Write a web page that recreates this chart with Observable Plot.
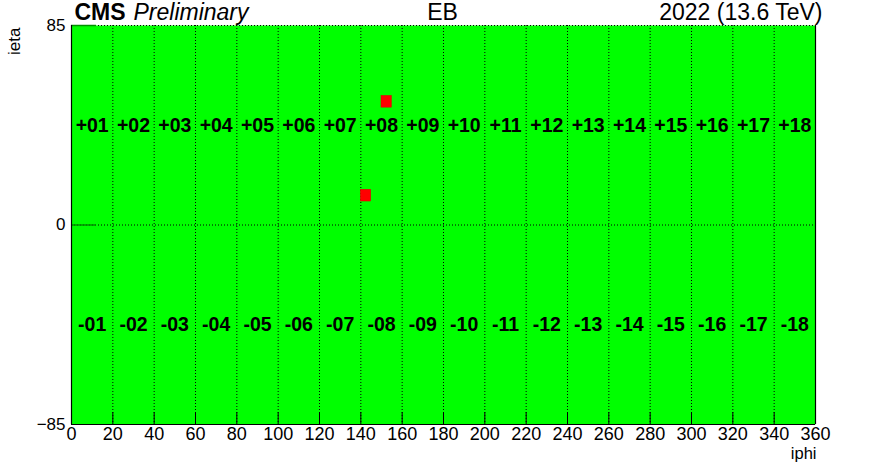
<!DOCTYPE html>
<html>
<head>
<meta charset="utf-8">
<script src="https://cdn.jsdelivr.net/npm/d3@7"></script>
<script src="https://cdn.jsdelivr.net/npm/@observablehq/plot@0.6"></script>
<style>
  html, body { margin: 0; padding: 0; background: white; }
</style>
</head>
<body>
<div id="chart"></div>
<script>
// ---- data ----
const xTicks = [0, 20, 40, 60, 80, 100, 120, 140, 160, 180, 200, 220, 240, 260, 280, 300, 320, 340, 360];
const xGrid = [20, 40, 60, 80, 100, 120, 140, 160, 180, 200, 220, 240, 260, 280, 300, 320, 340];
const yTicks = [-85, 0, 85];
const yTickLabels = ["\u221285", "0", "85"];
const smCenters = [10, 30, 50, 70, 90, 110, 130, 150, 170, 190, 210, 230, 250, 270, 290, 310, 330, 350];
const smPlusLabels = ["+01","+02","+03","+04","+05","+06","+07","+08","+09","+10","+11","+12","+13","+14","+15","+16","+17","+18"];
const smMinusLabels = ["-01","-02","-03","-04","-05","-06","-07","-08","-09","-10","-11","-12","-13","-14","-15","-16","-17","-18"];
const smPlusEta = 42.5;
const smMinusEta = -42.5;
// flagged trigger towers (iphi range, ieta range)
const towerPhiLo = [150, 140];
const towerPhiHi = [155, 145];
const towerEtaLo = [50, 10];
const towerEtaHi = [55, 15];

const towers = towerPhiLo.map((d, i) => ({x1: d, x2: towerPhiHi[i], y1: towerEtaLo[i], y2: towerEtaHi[i]}));
const plusLabels = smCenters.map((c, i) => ({x: c, y: smPlusEta, t: smPlusLabels[i]}));
const minusLabels = smCenters.map((c, i) => ({x: c, y: smMinusEta, t: smMinusLabels[i]}));

const font = "'Liberation Sans', Arial, Helvetica, sans-serif";
const frameW = 744, frameH = 399;

const chart = Plot.plot({
  width: 879,
  height: 470,
  marginLeft: 71,
  marginRight: 64,
  marginTop: 25,
  marginBottom: 46,
  style: {fontFamily: font, fontSize: "17px", background: "white", color: "black"},
  x: {domain: [0, 360], axis: null},
  y: {domain: [-85, 85], axis: null},
  marks: [
    Plot.frame({fill: "#00ff00", stroke: null}),
    Plot.ruleX(xGrid, {stroke: "black", strokeDasharray: "1,2", strokeWidth: 1}),
    Plot.ruleY([0, 85], {stroke: "black", strokeDasharray: "1,2", strokeWidth: 1}),
    Plot.rect(towers, {x1: "x1", x2: "x2", y1: "y1", y2: "y2", fill: "#ff0000", stroke: "#e00000", strokeWidth: 0.5}),
    Plot.tickX(xTicks, {x: d => d, stroke: "black", insetTop: frameH - 12}),
    Plot.tickY([0, 85], {y: d => d, stroke: "#009000", strokeWidth: 1.5, insetRight: frameW - 25}),
    Plot.ruleX([0, 360], {stroke: "black", strokeWidth: 1.2}),
    Plot.ruleY([-85], {stroke: "black", strokeWidth: 1.2}),
    Plot.text(plusLabels, {x: "x", y: "y", text: "t", fontWeight: "bold", fontSize: 19.5, fill: "black"}),
    Plot.text(minusLabels, {x: "x", y: "y", text: "t", fontWeight: "bold", fontSize: 19.5, fill: "black"}),
    Plot.axisX({ticks: xTicks, tickSize: 0, tickPadding: 3, fontSize: 18, label: null, tickFormat: d => String(d)}),
    Plot.axisY({ticks: yTicks, tickSize: 0, tickPadding: 6, fontSize: 17, label: null, tickFormat: d => yTickLabels[yTicks.indexOf(d)]}),
    Plot.text(["iphi"], {frameAnchor: "bottom-right", textAnchor: "end", lineAnchor: "bottom", dx: 1, dy: 34, fontSize: 16.5}),
    Plot.text(["ieta"], {frameAnchor: "top-left", textAnchor: "end", lineAnchor: "middle", rotate: -90, dx: -57, dy: 2, fontSize: 17}),
    Plot.text(["CMS"], {frameAnchor: "top-left", textAnchor: "start", lineAnchor: "bottom", dx: 3, dy: -5.5, fontSize: 23, fontWeight: "bold"}),
    Plot.text(["Preliminary"], {frameAnchor: "top-left", textAnchor: "start", lineAnchor: "bottom", dx: 62, dy: -5.5, fontSize: 23, fontStyle: "italic"}),
    Plot.text(["EB"], {frameAnchor: "top", textAnchor: "middle", lineAnchor: "bottom", dx: -1, dy: -5.5, fontSize: 23}),
    Plot.text(["2022 (13.6 TeV)"], {frameAnchor: "top-right", textAnchor: "end", lineAnchor: "bottom", dx: 7, dy: -5.5, fontSize: 23})
  ]
});
document.getElementById("chart").appendChild(chart);
</script>
</body>
</html>
